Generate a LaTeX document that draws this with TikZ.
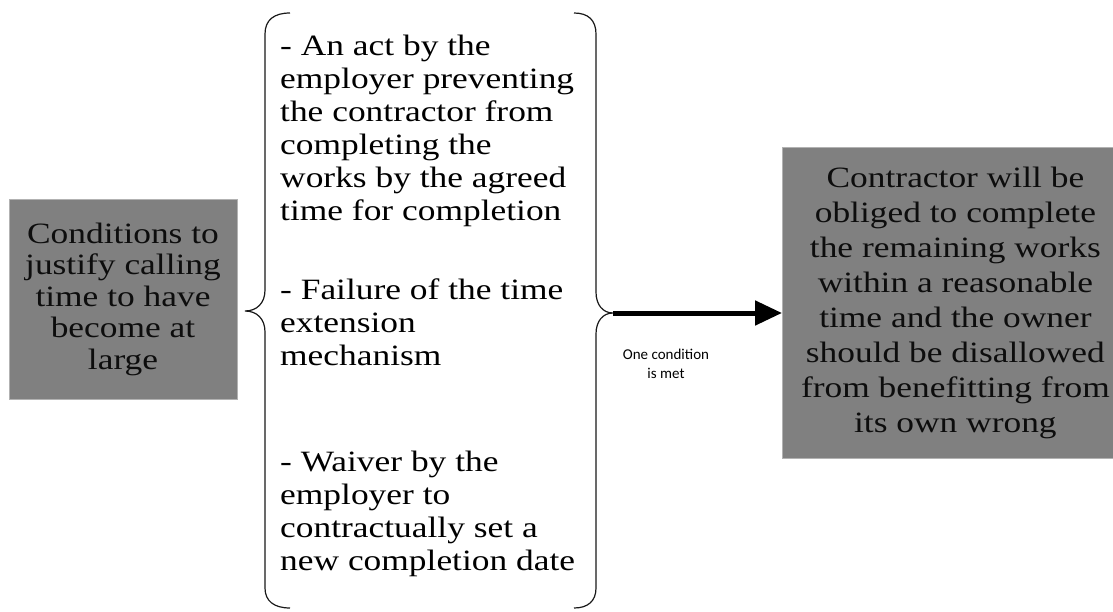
\documentclass[tikz,border=0pt]{standalone}
\usepackage{fontspec}
\setmainfont{Liberation Serif}[FakeStretch=1.2]
\newfontfamily\labelfont{Carlito}
\usetikzlibrary{arrows.meta}
\begin{document}
\begin{tikzpicture}[x=1pt,y=-1pt,
  box/.style={draw=black!30, line width=0.8pt, fill=black!50, text=black!95,
              inner sep=0pt, align=center},
  brace/.style={draw=black!90, line width=1.2pt},
  bodytext/.style={anchor=north west, inner sep=0pt, align=left,
                   font=\fontsize{29.5}{33}\selectfont},
  arrowline/.style={draw=black, line width=5pt,
                    -{Triangle[length=27pt,width=24pt]}},
  note/.style={inner sep=0pt, align=center,
               font=\labelfont\fontsize{15}{18.5}\selectfont}]
\useasboundingbox (0,0) rectangle (1113,612);

% left condition box
\node[box, minimum width=228pt, minimum height=200pt,
      font=\fontsize{29.5}{31.5}\selectfont] (cond) at (123,299)
  {Conditions to\\justify calling\\time to have\\become at\\large};

% pair of braces around the list of conditions
\coordinate (ltip) at (245,311);
\coordinate (rtip) at (613,313);
\draw[brace] (290,13) .. controls (274,13) and (265,20) .. (265,34)
  -- (265,290) .. controls (265,303) and (257,311) .. (ltip)
  .. controls (257,311) and (265,319) .. (265,332)
  -- (265,588) .. controls (265,601) and (274,608) .. (290,608);
\draw[brace] (574,13) .. controls (588,13) and (596,20) .. (596,34)
  -- (596,292) .. controls (596,305) and (603,313) .. (rtip)
  .. controls (603,313) and (596,321) .. (596,334)
  -- (596,588) .. controls (596,601) and (588,608) .. (574,608);

% list of conditions
\node[bodytext] (actitem) at (280,35)
  {- An act by the\\employer preventing\\the contractor from\\completing the\\works by the agreed\\time for completion};
\node[bodytext] (failitem) at (280,279)
  {- Failure of the time\\extension\\mechanism};
\node[bodytext] (waiveitem) at (280,451)
  {- Waiver by the\\employer to\\contractually set a\\new completion date};

% consequence box
\node[box, anchor=north west, minimum width=346pt, minimum height=311pt,
      font=\fontsize{29.5}{35}\selectfont] (result) at (782,147)
  {Contractor will be\\obliged to complete\\the remaining works\\within a reasonable\\time and the owner\\should be disallowed\\from benefitting from\\its own wrong};

% arrow with its label
\draw[arrowline] (rtip) -- (rtip -| result.west);
\node[note] (met) at (666,364) {One condition\\is met};
\end{tikzpicture}
\end{document}
